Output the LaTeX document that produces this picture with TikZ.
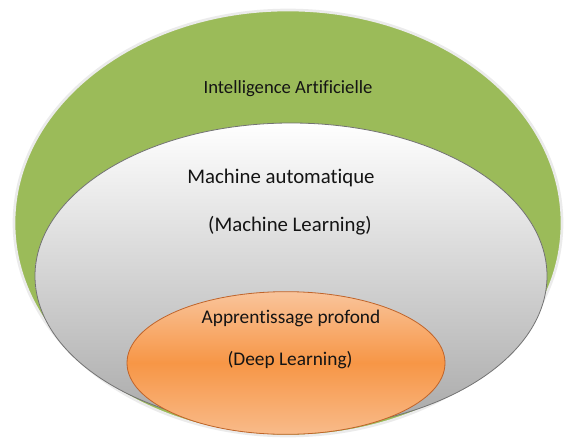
\documentclass[tikz,border=0pt]{standalone}
\usepackage{fontspec}
\setmainfont[Ligatures=NoCommon]{Carlito}
\usetikzlibrary{shapes.geometric}
\usetikzlibrary{positioning}
\definecolor{aigreen}{HTML}{9BBB59}
\definecolor{aiorange}{HTML}{F79646}
\definecolor{aiorangelight}{HTML}{F9C49B}
\definecolor{aiorangeedge}{HTML}{C0642A}
\definecolor{mlgrey}{HTML}{A8A8A8}

\begin{document}
\begin{tikzpicture}[x=0.75pt,y=-0.75pt, zone/.style={ellipse,inner sep=0pt}, zone text/.style={text=black!92}]

    \useasboundingbox (0,0) rectangle (564,439);

    % the three sets
    \node[zone, fill=aigreen, draw=black!8, line width=2pt, minimum width=411pt, minimum height=319.5pt] (ai) at (288,223) {};
    \node[zone, top color=white, bottom color=mlgrey, draw=black!55, line width=0.6pt, minimum width=384pt, minimum height=229.5pt] (ml) at (291,276) {};
    \node[zone, top color=aiorangelight, bottom color=aiorangelight!80!aiorange, middle color=aiorange, draw=aiorangeedge, line width=0.6pt, minimum width=238.5pt, minimum height=107pt] (dl) at (286,363) {};

    % their names
    \node[zone text, font=\fontsize{14}{16}\selectfont] (ainame) [below=50pt of ai.north] {Intelligence Artificielle};
    \node[zone text, font=\fontsize{15.6}{18}\selectfont] (mlname) at (281,178) {Machine automatique};
    \node[zone text, font=\fontsize{15.6}{18}\selectfont] (mlsub) at (290,226) {(Machine Learning)};
    \node[zone text, font=\fontsize{14.5}{17}\selectfont] (dlname) at (291,318) {Apprentissage profond};
    \node[zone text, font=\fontsize{14.5}{17}\selectfont] (dlsub) at (290,360) {(Deep Learning)};

\end{tikzpicture}
\end{document}
